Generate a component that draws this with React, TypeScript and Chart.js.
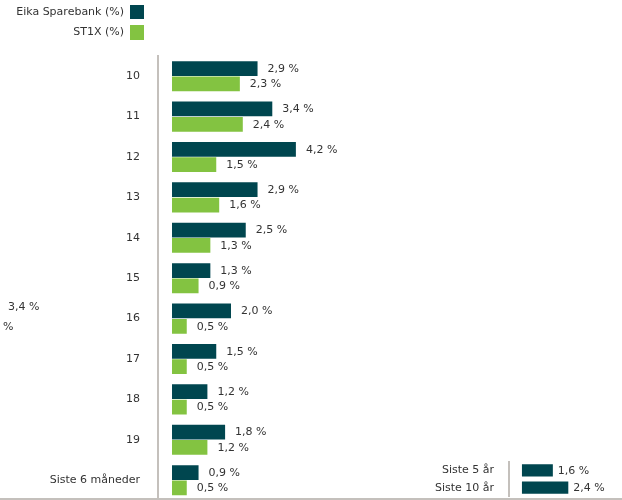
import React, { useEffect, useRef } from "react";
import { Chart, registerables } from "chart.js";

Chart.register(...registerables);

const categories = ["10", "11", "12", "13", "14", "15", "16", "17", "18", "19", "Siste 6 måneder"];
const eikaValues = [2.9, 3.4, 4.2, 2.9, 2.5, 1.3, 2.0, 1.5, 1.2, 1.8, 0.9];
const st1xValues = [2.3, 2.4, 1.5, 1.6, 1.3, 0.9, 0.5, 0.5, 0.5, 1.2, 0.5];

const periodCategories = ["Siste 5 år", "Siste 10 år"];
const periodValues = [1.6, 2.4];

const legendLabels = ["Eika Sparebank (%)", "ST1X (%)"];

const DARK = "#00464f";
const GREEN = "#83c341";
const AXIS = "#c4c0bc";
const TEXT = "#333333";
const FONT = '"DejaVu Sans", Verdana, sans-serif';

const fmt = (v: number) => v.toFixed(1).replace(".", ",") + " %";

const valueLabels = (gap: number) => ({
  id: "valueLabels",
  afterDatasetsDraw(chart: any) {
    const ctx = chart.ctx;
    ctx.save();
    ctx.font = `11px ${FONT}`;
    ctx.fillStyle = TEXT;
    ctx.textBaseline = "middle";
    ctx.textAlign = "left";
    chart.data.datasets.forEach((ds: any, i: number) => {
      const meta = chart.getDatasetMeta(i);
      meta.data.forEach((bar: any, j: number) => {
        const v = ds.data[j] as number;
        ctx.fillText(fmt(v), bar.x + gap, bar.y + 0.5);
      });
    });
    ctx.restore();
  },
});

// The category axis reserves (tick padding + half a label) below the chart area,
// so the canvases are made taller and clipped by the 622x500 frame.
function MainChart() {
  const ref = useRef<HTMLCanvasElement>(null);
  useEffect(() => {
    const chart = new Chart(ref.current!, {
      type: "bar",
      data: {
        labels: categories,
        datasets: [
          { label: legendLabels[0], data: eikaValues, backgroundColor: DARK },
          { label: legendLabels[1], data: st1xValues, backgroundColor: GREEN },
        ],
      },
      options: {
        indexAxis: "y",
        responsive: false,
        animation: false,
        layout: { padding: { top: 56, bottom: 0, left: 0, right: 0 } },
        datasets: { bar: { categoryPercentage: 0.76, barPercentage: 0.96 } },
        plugins: { legend: { display: false }, tooltip: { enabled: false } },
        scales: {
          x: { display: false, min: -0.475, max: 7.73 },
          y: {
            afterFit: (s: any) => { s.width = 158; },
            grid: { display: false, drawTicks: false },
            border: { display: true, color: AXIS, width: 2 },
            ticks: { padding: 18, color: TEXT, font: { family: FONT, size: 11 } },
          },
        },
      } as any,
      plugins: [valueLabels(10)],
    });
    return () => chart.destroy();
  }, []);
  return (
    <canvas
      ref={ref}
      width={400}
      height={525}
      style={{ position: "absolute", left: 0, top: 0, width: 400, height: 525 }}
    />
  );
}

function PeriodChart() {
  const ref = useRef<HTMLCanvasElement>(null);
  useEffect(() => {
    const chart = new Chart(ref.current!, {
      type: "bar",
      data: {
        labels: periodCategories,
        datasets: [{ label: legendLabels[0], data: periodValues, backgroundColor: DARK }],
      },
      options: {
        indexAxis: "y",
        responsive: false,
        animation: false,
        layout: { padding: { top: 16, bottom: 0, left: 0, right: 0 } },
        datasets: { bar: { categoryPercentage: 0.72, barPercentage: 0.98 } },
        plugins: { legend: { display: false }, tooltip: { enabled: false } },
        scales: {
          x: { display: false, min: -0.67, max: 5.18 },
          y: {
            afterFit: (s: any) => { s.width = 109; },
            grid: { display: false, drawTicks: false },
            border: { display: true, color: AXIS, width: 2 },
            ticks: { padding: 15, color: TEXT, font: { family: FONT, size: 11 } },
          },
        },
      } as any,
      plugins: [valueLabels(5)],
    });
    return () => chart.destroy();
  }, []);
  return (
    <canvas
      ref={ref}
      width={222}
      height={78}
      style={{ position: "absolute", left: 400, top: 440, width: 222, height: 78 }}
    />
  );
}

export default function App() {
  const textStyle: React.CSSProperties = {
    position: "absolute",
    fontFamily: FONT,
    fontSize: 11,
    color: TEXT,
    whiteSpace: "nowrap",
    lineHeight: "14px",
  };
  return (
    <div
      style={{
        position: "absolute",
        left: 0,
        top: 0,
        width: 622,
        height: 500,
        overflow: "hidden",
        background: "#ffffff",
      }}
    >
      <MainChart />
      <PeriodChart />
      {/* legend */}
      <div style={{ ...textStyle, right: 622 - 124, top: 5, textAlign: "right" }}>{legendLabels[0]}</div>
      <div style={{ position: "absolute", left: 130, top: 5, width: 14, height: 14, background: DARK }} />
      <div style={{ ...textStyle, right: 622 - 124, top: 25, textAlign: "right" }}>{legendLabels[1]}</div>
      <div style={{ position: "absolute", left: 130, top: 25, width: 14, height: 15, background: GREEN }} />
      {/* clipped stray labels */}
      <div style={{ ...textStyle, left: 8, top: 300 }}>3,4 %</div>
      <div style={{ ...textStyle, left: 3, top: 320 }}>%</div>
      {/* bottom rule */}
      <div style={{ position: "absolute", left: 0, top: 498, width: 622, height: 2, background: AXIS }} />
    </div>
  );
}
